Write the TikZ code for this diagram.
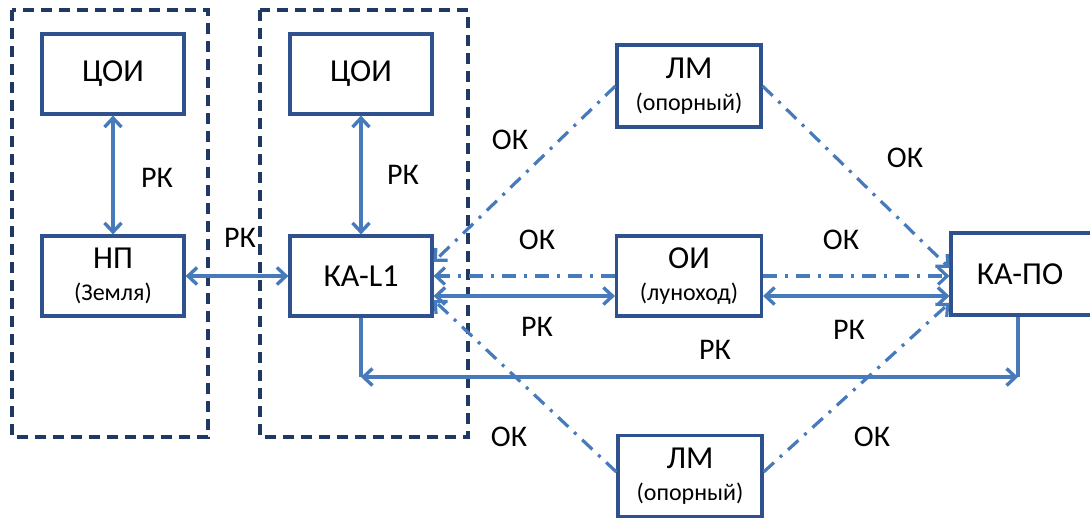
\documentclass[tikz,border=0pt]{standalone}
\usepackage{fontspec}
\setmainfont{Carlito}
\usetikzlibrary{arrows.meta}
\definecolor{boxblue}{RGB}{47,82,143}
\definecolor{linkblue}{RGB}{70,122,186}
\definecolor{groupblue}{RGB}{31,56,100}
\begin{document}
\begin{tikzpicture}[x=1pt,y=-1pt,
  >={Straight Barb[length=9pt,width=17pt]},
  unit/.style={draw=boxblue, line width=3.2pt, minimum width=142pt,
    minimum height=80pt, inner sep=0pt, align=center,
    font=\fontsize{32}{33}\selectfont},
  group/.style={draw=groupblue, line width=3.4pt, dash pattern=on 11pt off 7pt},
  rk/.style={draw=linkblue, line width=3.4pt},
  ok/.style={draw=linkblue, line width=3.2pt, dash pattern=on 14pt off 8pt on 3pt off 8pt},
  lbl/.style={font=\fontsize{30}{31}\selectfont, inner sep=0pt}]
\useasboundingbox (0,0) rectangle (1090,520);

% ground segment and relay segment frames
\draw[group] (12,10) rectangle (208,437);
\draw[group] (260,10) rectangle (468,437);

% units
\node[unit] (coi1) at (113,74) {ЦОИ};
\node[unit] (np)   at (113,276) {НП\\[-1pt]\fontsize{24}{25}\selectfont (Земля)};
\node[unit] (coi2) at (361,74) {ЦОИ};
\node[unit] (kal1) at (361,276) {КА-L1};
\node[unit, minimum width=144pt, minimum height=82pt] (lm1) at (689,86) {ЛМ\\[-1pt]\fontsize{24}{25}\selectfont (опорный)};
\node[unit, minimum width=145pt] (oi) at (689,276) {ОИ\\[-1pt]\fontsize{24}{25}\selectfont (луноход)};
\node[unit, minimum width=144pt, minimum height=81pt] (lm2) at (690,476) {ЛМ\\[-1pt]\fontsize{24}{25}\selectfont (опорный)};
\node[unit, minimum width=142pt, minimum height=82pt] (kapo) at (1022,274) {\hspace*{-4pt}КА-ПО};

% radio links
\draw[rk,<->] (coi1.south) -- (np.north);
\draw[rk,<->] (coi2.south) -- (kal1.north);
\draw[rk,<->] (np.east) -- (kal1.west);
\draw[rk,<->] ([yshift=-20pt]kal1.east) -- ([yshift=-20pt]oi.west);
\draw[rk,<->] ([yshift=-20pt]oi.east) -- ([yshift=-22pt]kapo.west);
\coordinate (c1) at (361,377);
\coordinate (c2) at (1018,377);
\draw[rk] (kal1.south) -- (c1);
\draw[rk] (c2 |- kapo.south) -- (c2);
\draw[rk,<->] (c1) -- (c2);

% optical links
\draw[ok,->] (lm1.west) -- ([yshift=14pt]kal1.east);
\draw[ok,->] (oi.west) -- (kal1.east);
\draw[ok,->] ([yshift=4pt]lm2.west) -- ([yshift=-24pt]kal1.east);
\draw[ok,->] (lm1.east) -- ([yshift=6pt]kapo.west);
\draw[ok,->] (oi.east) -- ([yshift=-2pt]kapo.west);
\draw[ok,->] ([yshift=4pt]lm2.east) -- ([yshift=-29pt]kapo.west);

% link labels
\node[lbl] (l1)  at (157,178) {РК};
\node[lbl] (l2)  at (403,175) {РК};
\node[lbl] (l3)  at (240,238) {РК};
\node[lbl] (l4)  at (510,140) {ОК};
\node[lbl] (l5)  at (905,158) {ОК};
\node[lbl] (l6)  at (537,240) {ОК};
\node[lbl] (l7)  at (841,240) {ОК};
\node[lbl] (l8)  at (537,327) {РК};
\node[lbl] (l9)  at (849,330) {РК};
\node[lbl] (l10) at (715,350) {РК};
\node[lbl] (l11) at (509,437) {ОК};
\node[lbl] (l12) at (872,437) {ОК};
\end{tikzpicture}
\end{document}
